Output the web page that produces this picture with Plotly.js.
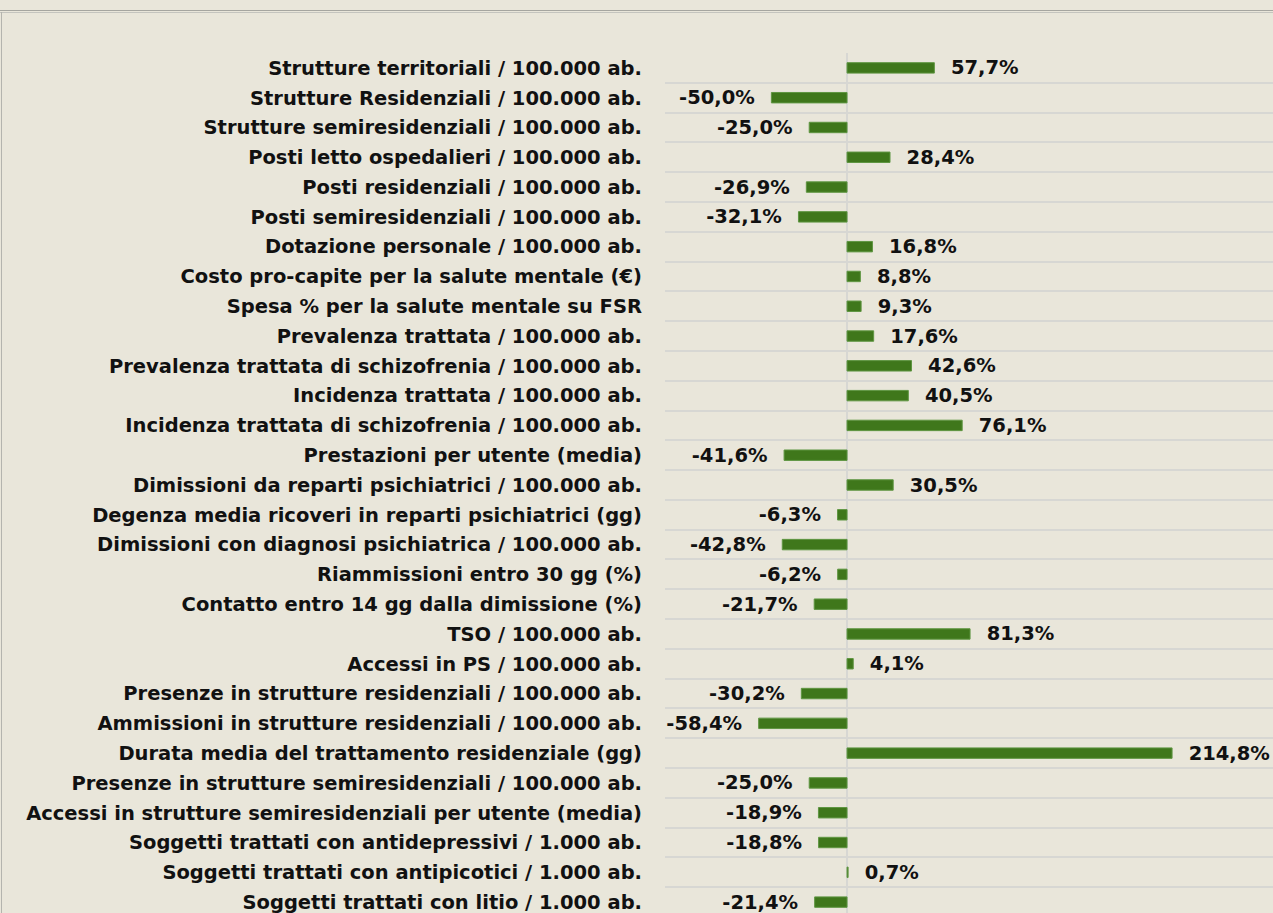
<!DOCTYPE html>
<html><head><meta charset="utf-8">
<script src="https://cdn.plot.ly/plotly-3.0.1.min.js"></script>
<style>
html,body{margin:0;padding:0;background:#e9e6da;overflow:hidden;width:1273px;height:913px;}
#frameTop{position:absolute;left:0;top:10px;width:1273px;height:1px;border-top:1px solid #a6a6a0;border-bottom:1px solid #c4c4be;}
#frameLeft{position:absolute;left:1px;top:12px;width:1px;height:901px;background:#b4b4ae;}
#chart{position:absolute;left:0;top:0;}
</style></head>
<body>
<div id="chart"></div>
<div id="frameTop"></div>
<div id="frameLeft"></div>
<script>
const categories = [
 "Strutture territoriali / 100.000 ab.",
 "Strutture Residenziali / 100.000 ab.",
 "Strutture semiresidenziali / 100.000 ab.",
 "Posti letto ospedalieri / 100.000 ab.",
 "Posti residenziali / 100.000 ab.",
 "Posti semiresidenziali / 100.000 ab.",
 "Dotazione personale / 100.000 ab.",
 "Costo pro-capite per la salute mentale (€)",
 "Spesa % per la salute mentale su FSR",
 "Prevalenza trattata / 100.000 ab.",
 "Prevalenza trattata di schizofrenia / 100.000 ab.",
 "Incidenza trattata / 100.000 ab.",
 "Incidenza trattata di schizofrenia / 100.000 ab.",
 "Prestazioni per utente (media)",
 "Dimissioni da reparti psichiatrici / 100.000 ab.",
 "Degenza media ricoveri in reparti psichiatrici (gg)",
 "Dimissioni con diagnosi psichiatrica / 100.000 ab.",
 "Riammissioni entro 30 gg (%)",
 "Contatto entro 14 gg dalla dimissione (%)",
 "TSO / 100.000 ab.",
 "Accessi in PS / 100.000 ab.",
 "Presenze in strutture residenziali / 100.000 ab.",
 "Ammissioni in strutture residenziali / 100.000 ab.",
 "Durata media del trattamento residenziale (gg)",
 "Presenze in strutture semiresidenziali / 100.000 ab.",
 "Accessi in strutture semiresidenziali per utente (media)",
 "Soggetti trattati con antidepressivi / 1.000 ab.",
 "Soggetti trattati con antipicotici / 1.000 ab.",
 "Soggetti trattati con litio / 1.000 ab."
];
const variation = [57.7, -50.0, -25.0, 28.4, -26.9, -32.1, 16.8, 8.8, 9.3, 17.6, 42.6, 40.5, 76.1, -41.6, 30.5, -6.3, -42.8, -6.2, -21.7, 81.3, 4.1, -30.2, -58.4, 214.8, -25.0, -18.9, -18.8, 0.7, -21.4];

const pad = "\u00a0\u00a0";
const labels = variation.map(v => {
  const s = v.toFixed(1).replace('.', ',') + '%';
  return v < 0 ? s + pad : pad + s;
});

const FONT = "DejaVu Sans, sans-serif";

const trace = {
  type: 'bar', orientation: 'h',
  y: categories, x: variation,
  text: labels, textposition: 'outside', cliponaxis: false, constraintext: 'none',
  textfont: {family: FONT, size: 19.5, color: '#111', weight: 'bold'},
  marker: {color: '#3f771b', line: {color: '#5f9642', width: 1}},
  width: 0.35, hoverinfo: 'skip'
};

const layout = {
  width: 1273, height: 917,
  margin: {l: 665, r: 0, t: 53, b: 0},
  paper_bgcolor: '#e9e6da', plot_bgcolor: '#e9e6da',
  showlegend: false,
  xaxis: {range: [-120.3, 281.5], showgrid: false, showticklabels: false, ticks: '',
          zeroline: true, zerolinecolor: '#d7d7d3', zerolinewidth: 2, fixedrange: true},
  yaxis: {type: 'category', autorange: 'reversed', tickson: 'boundaries',
          showgrid: true, gridcolor: '#d7d7d3', gridwidth: 2,
          ticks: '', ticklabelstandoff: 22,
          automargin: false, zeroline: false, showline: false,
          tickfont: {family: FONT, size: 19.5, color: '#111', weight: 'bold'}},
  bargap: 0.65
};

Plotly.newPlot('chart', [trace], layout, {staticPlot: true, displayModeBar: false});
</script>
</body></html>
